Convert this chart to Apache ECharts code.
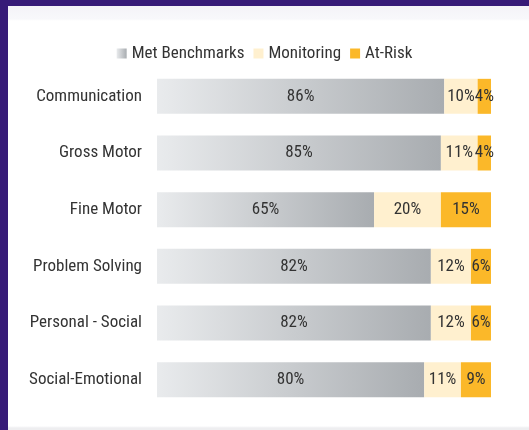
<!DOCTYPE html>
<html>
<head>
<meta charset="utf-8">
<script src="https://cdn.jsdelivr.net/npm/echarts@6/dist/echarts.min.js"></script>
<style>
  html, body { margin: 0; padding: 0; width: 529px; height: 430px; overflow: hidden; background: #371b78; }
  .panel {
    position: absolute; left: 8px; top: 6px; right: 0; bottom: 0;
    background: linear-gradient(#f4f3f8 0px, #f8f8fb 13px, #ffffff 15px, #ffffff 420px, #eeeef0 422px);
  }
  #main { position: absolute; left: 0; top: 0; width: 529px; height: 430px; }
</style>
</head>
<body>
<div class="panel"></div>
<div id="main"></div>
<script>
const categories = ['Communication', 'Gross Motor', 'Fine Motor', 'Problem Solving', 'Personal - Social', 'Social-Emotional'];
const metBenchmarks = [86, 85, 65, 82, 82, 80];
const monitoring = [10, 11, 20, 12, 12, 11];
const atRisk = [4, 4, 15, 6, 6, 9];

const FONT = "'Roboto Condensed', 'Liberation Sans Narrow', 'DejaVu Sans Condensed', Roboto, sans-serif";

var chart = echarts.init(document.getElementById('main'));

var labelStyle = {
  show: true,
  position: 'inside',
  color: '#333333',
  fontSize: 17,
  fontFamily: FONT,
  formatter: '{c}%'
};

var option = {
  backgroundColor: 'transparent',
  animation: false,
  legend: {
    top: 40,
    left: 'center',
    itemWidth: 10,
    itemHeight: 10,
    itemGap: 9,
    icon: 'rect',
    textStyle: { color: '#333333', fontSize: 17, fontFamily: FONT },
    data: ['Met Benchmarks', 'Monitoring', 'At-Risk']
  },
  grid: { left: 157, right: 38, top: 68, bottom: 22, containLabel: false },
  xAxis: { type: 'value', min: 0, max: 100, show: false },
  yAxis: {
    type: 'category',
    inverse: true,
    data: categories,
    axisLine: { show: false },
    axisTick: { show: false },
    axisLabel: { color: '#333333', fontSize: 17, fontFamily: FONT, margin: 15 }
  },
  series: [
    {
      name: 'Met Benchmarks',
      type: 'bar',
      stack: 'total',
      barWidth: 35,
      data: metBenchmarks,
      label: labelStyle,
      itemStyle: {
        color: new echarts.graphic.LinearGradient(0, 0, 1, 0, [
          { offset: 0, color: '#e9ebed' },
          { offset: 1, color: '#a8acb0' }
        ])
      }
    },
    {
      name: 'Monitoring',
      type: 'bar',
      stack: 'total',
      data: monitoring,
      label: labelStyle,
      itemStyle: { color: '#fff0cf' }
    },
    {
      name: 'At-Risk',
      type: 'bar',
      stack: 'total',
      data: atRisk,
      label: labelStyle,
      itemStyle: { color: '#fbb829' }
    }
  ]
};

chart.setOption(option);
</script>
</body>
</html>
